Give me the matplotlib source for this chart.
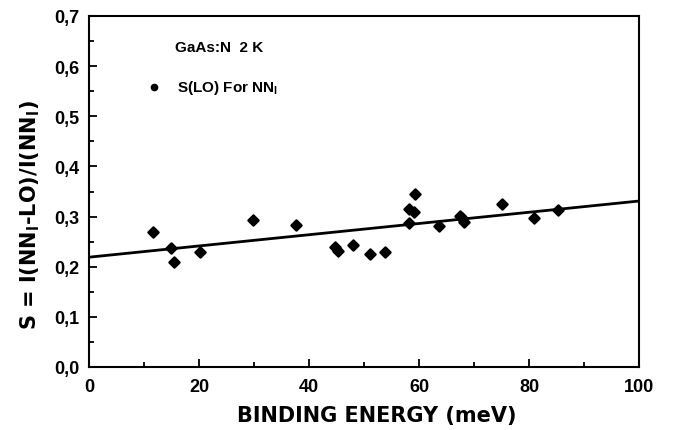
import matplotlib
matplotlib.use("Agg")
import matplotlib.pyplot as plt
from matplotlib.ticker import MultipleLocator, FuncFormatter
from matplotlib.markers import MarkerStyle

# Data
binding_energy = [11.7, 14.9, 15.5, 20.2, 29.8, 37.7, 44.7, 45.3, 48.0, 51.0, 53.9,
                  58.1, 58.2, 59.1, 59.3, 63.6, 67.5, 67.8, 68.1, 75.1, 80.9, 85.3]
s_values = [0.270, 0.238, 0.210, 0.230, 0.294, 0.284, 0.239, 0.232, 0.244, 0.225, 0.229,
            0.287, 0.315, 0.309, 0.345, 0.282, 0.301, 0.297, 0.289, 0.326, 0.298, 0.314]
fit_x = [0, 100]
fit_y = [0.219, 0.331]

plt.rcParams['font.family'] = ['Liberation Sans', 'DejaVu Sans']
plt.rcParams['font.weight'] = 'bold'
plt.rcParams['mathtext.fontset'] = 'custom'
plt.rcParams['mathtext.rm'] = 'DejaVu Sans:bold'
plt.rcParams['mathtext.it'] = 'DejaVu Sans:bold'
plt.rcParams['mathtext.bf'] = 'DejaVu Sans:bold'

L, R, B, T = 89, 639, 368, 17
fig = plt.figure(figsize=(6.74, 4.31), dpi=100)
ax = fig.add_axes([L/674, 1-B/431, (R-L)/674, (B-T)/431])

ax.plot(fit_x, fit_y, color='black', lw=2.0, zorder=2)
ax.plot(binding_energy, s_values, linestyle='none',
        marker=MarkerStyle('D', joinstyle='round'), color='black',
        ms=4.8, mew=1.8, markeredgecolor='black', zorder=3)

ax.set_xlim(0, 100)
ax.set_ylim(0, 0.7)
ax.xaxis.set_major_locator(MultipleLocator(20))
ax.xaxis.set_minor_locator(MultipleLocator(10))
ax.yaxis.set_major_locator(MultipleLocator(0.1))
ax.yaxis.set_minor_locator(MultipleLocator(0.05))
ax.yaxis.set_major_formatter(FuncFormatter(lambda v, p: f"{v:.1f}".replace('.', ',')))
ax.xaxis.set_major_formatter(FuncFormatter(lambda v, p: f"{int(round(v))}"))
ax.tick_params(which='both', direction='in', top=False, right=False, width=1.3)
ax.tick_params(which='major', length=6, labelsize=13)
ax.tick_params(axis='x', which='major', pad=8)
ax.tick_params(axis='y', which='major', pad=7)
ax.tick_params(which='minor', length=3.5)
for lab in ax.get_xticklabels() + ax.get_yticklabels():
    lab.set_fontweight('bold')
for sp in ax.spines.values():
    sp.set_linewidth(1.5)

ax.set_xlabel('BINDING ENERGY (meV)', fontsize=15, fontweight='bold',
              family=['DejaVu Sans'])
ax.xaxis.set_label_coords((376.5-L)/(R-L), (B-416)/(B-T))
ax.xaxis.label.set_va('center')
ax.set_ylabel(r'S = I(NN$_\mathregular{l}$-LO)/I(NN$_\mathregular{l}$)', fontsize=15,
              fontweight='bold', family=['DejaVu Sans'])
ax.yaxis.set_label_coords((30-L)/(R-L), (B-215)/(B-T))
ax.yaxis.label.set_va('center')

ax.text((175-L)/(R-L), (B-48)/(B-T), 'GaAs:N  2 K', transform=ax.transAxes, fontsize=11,
        fontweight='bold', va='center', ha='left')
ax.plot([(154-L)/(R-L)], [(B-88)/(B-T)], 'o', color='black', ms=4.5,
        transform=ax.transAxes, clip_on=False)
ax.text((177-L)/(R-L), (B-88)/(B-T), r'S(LO) For NN$_\mathregular{l}$', transform=ax.transAxes,
        fontsize=11, fontweight='bold', va='center', ha='left')

fig.savefig('out.png', dpi=100)
